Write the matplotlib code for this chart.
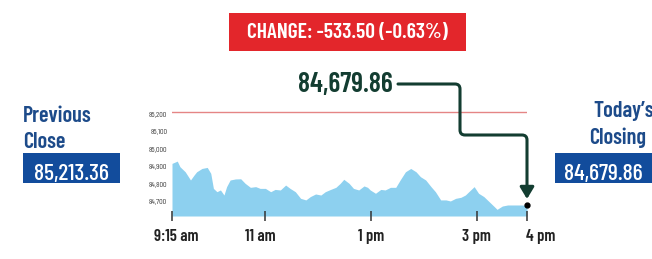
import matplotlib

matplotlib.use("Agg")
import matplotlib.pyplot as plt  # noqa: E402
from matplotlib import font_manager as fm  # noqa: E402
from matplotlib.patches import Rectangle, FancyArrowPatch  # noqa: E402
from matplotlib.path import Path  # noqa: E402
from matplotlib.transforms import ScaledTranslation  # noqa: E402

_have = {f.name for f in fm.fontManager.ttflist}
_cond = [n for n in ["Barlow Condensed", "Barlow Semi Condensed", "Roboto Condensed",
                     "Archivo Narrow", "Liberation Sans Narrow"] if n in _have]
plt.rcParams["font.family"] = _cond[:1] + ["DejaVu Sans"]

# minutes after 9:15 am, Sensex level
minutes = [0, 6, 9, 15, 21, 25, 28, 34, 40, 44, 47, 51, 55, 59, 62, 66, 72, 78,
           83, 89, 95, 100, 106, 112, 117, 123, 129, 134, 140, 146, 152, 157,
           163, 169, 174, 180, 186, 191, 195, 201, 206, 212, 218, 222, 225, 231,
           237, 242, 248, 254, 259, 265, 271, 277, 282, 288, 294, 299, 305, 311,
           316, 322, 328, 333, 339, 343, 348, 354, 360, 366, 369, 375, 381, 388,
           396, 403]
levels = [84919, 84932, 84900, 84871, 84824, 84852, 84871, 84890, 84896, 84862,
          84776, 84757, 84767, 84738, 84786, 84824, 84830, 84831, 84805, 84782,
          84786, 84776, 84776, 84757, 84770, 84767, 84795, 84776, 84757, 84719,
          84710, 84729, 84744, 84738, 84757, 84770, 84782, 84805, 84828, 84805,
          84776, 84767, 84790, 84782, 84767, 84748, 84770, 84767, 84782, 84782,
          84824, 84871, 84890, 84871, 84843, 84824, 84786, 84757, 84710, 84710,
          84704, 84719, 84725, 84738, 84767, 84786, 84748, 84729, 84700, 84671,
          84656, 84675, 84681, 84681, 84681, 84679.86]

prev_close = 85213.36
today_close = 84679.86
change_text = "CHANGE: -533.50 (-0.63%)"

x_ticks = [0, 106, 226, 346, 403]
x_labels = ["9:15 am", "11 am", "1 pm", "3 pm", "4 pm"]
y_ticks = [84700, 84800, 84900, 85000, 85100, 85200]

BLUE = "#124c9c"
TEXT_BLUE = "#1d4b8a"
RED = "#e3262b"
GREEN = "#133d31"
FILL = "#8dd0ef"

W, H = 652, 259
fig = plt.figure(figsize=(W / 100, H / 100), dpi=100)


def fx(px):
    return px / W


def fy(py):
    return 1 - py / H


ax = fig.add_axes([fx(172), fy(216), (527 - 172) / W, (216 - 107.3) / H])
ax.fill_between(minutes, levels, 84618, color=FILL, lw=0)
ax.axhline(prev_close, color="#e58585", lw=1.0)
ax.plot([minutes[-1]], [today_close], "o", color="black", ms=3.5,
        clip_on=False, zorder=5)
ax.set_xlim(0, 403)
ax.set_ylim(84618, 85240)
for s in ax.spines.values():
    s.set_visible(False)
ax.set_xticks(x_ticks)
ax.set_xticklabels(x_labels, fontsize=12, fontweight=600, color="#222222")
ax.tick_params(axis="x", direction="inout", length=6.5, width=1.1,
               color="#333333", pad=6)
ax.set_yticks(y_ticks)
ax.set_yticklabels([f"{v:,}" for v in y_ticks], fontsize=5.8, color="#444444")
ax.tick_params(axis="y", length=0, pad=3.5)
# shift labels a little right, the last one more, as in the source graphic
for i, lab in enumerate(ax.get_xticklabels()):
    dx = {0: 4, 1: -5, 4: 14}.get(i, 0)
    lab.set_transform(lab.get_transform() + ScaledTranslation(dx / 100, 0, fig.dpi_scale_trans))

# change banner
fig.add_artist(Rectangle((fx(229), fy(51)), (466 - 229) / W, (51 - 13) / H,
                         transform=fig.transFigure, color=RED, lw=0))
fig.text(fx(347), fy(32), change_text, color="white", fontsize=15.5,
         fontweight=600, ha="center", va="center")

# closing value with arrow
fig.text(fx(393), fy(92), f"{today_close:,.2f}", color=GREEN, fontsize=20,
         fontweight=600, ha="right", va="baseline")
r = 5
pts = [(398, 84), (460 - r, 84), (460, 84), (460, 84 + r), (460, 135 - r),
       (460, 135), (460 + r, 135), (527 - r, 135), (527, 135), (527, 135 + r),
       (527, 199)]
codes = [Path.MOVETO, Path.LINETO, Path.CURVE3, Path.CURVE3, Path.LINETO,
         Path.CURVE3, Path.CURVE3, Path.LINETO, Path.CURVE3, Path.CURVE3,
         Path.LINETO]
path = Path([(fx(a), fy(b)) for a, b in pts], codes)
fig.add_artist(FancyArrowPatch(path=path, transform=fig.transFigure,
                               arrowstyle="-|>,head_length=0.5,head_width=0.3",
                               mutation_scale=14, color=GREEN, lw=2.2))

# previous close
fig.text(fx(23), fy(122), "Previous", color=TEXT_BLUE, fontsize=16,
         fontweight=600, va="baseline")
fig.text(fx(23), fy(148), "Close", color=TEXT_BLUE, fontsize=16,
         fontweight=600, va="baseline")
fig.add_artist(Rectangle((fx(23), fy(183)), (120 - 23) / W, (183 - 153) / H,
                         transform=fig.transFigure, color=BLUE, lw=0))
fig.text(fx(71), fy(180), f"{prev_close:,.2f}", color="white", fontsize=17,
         fontweight=500, ha="center", va="baseline")

# today's closing
fig.text(fx(593), fy(117), "Today\u2019s", color=TEXT_BLUE, fontsize=16,
         fontweight=600, va="baseline")
fig.text(fx(589), fy(144), "Closing", color=TEXT_BLUE, fontsize=16,
         fontweight=600, va="baseline")
fig.add_artist(Rectangle((fx(555), fy(183)), (665 - 555) / W, (183 - 153) / H,
                         transform=fig.transFigure, color=BLUE, lw=0))
fig.text(fx(564), fy(180), f"{today_close:,.2f}", color="white", fontsize=17,
         fontweight=500, ha="left", va="baseline")

fig.savefig("out.png", dpi=100)
plt.close(fig)
